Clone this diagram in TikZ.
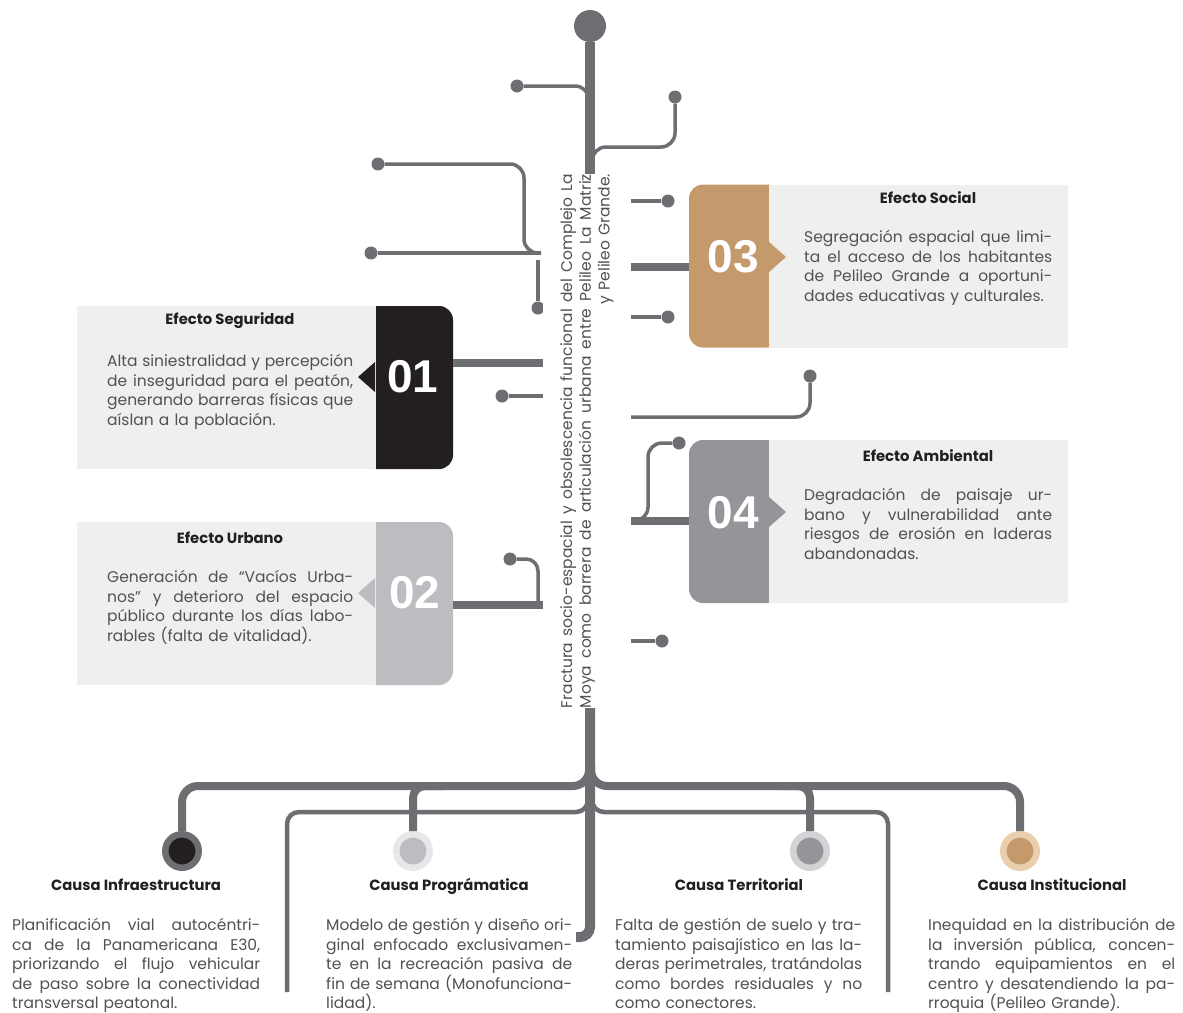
\documentclass[tikz,border=0pt]{standalone}
\usepackage{fontspec}
\setmainfont{Poppins}
\newfontfamily\numfont{Liberation Sans}
\usetikzlibrary{positioning,calc}
\definecolor{pgray}{HTML}{6D6E71}
\definecolor{cblack}{HTML}{231F20}
\definecolor{ctan}{HTML}{C49A6C}
\definecolor{cmid}{HTML}{939598}
\definecolor{clight}{HTML}{BCBDC0}
\definecolor{cpale}{HTML}{E6E7E8}
\definecolor{csilver}{HTML}{D1D3D4}
\definecolor{ctanpale}{HTML}{E9CFAE}
\definecolor{cpanel}{HTML}{EFEFEF}
\definecolor{ctext}{HTML}{505153}
\newcommand{\jl}[1]{\makebox[\hsize][s]{\spaceskip=.28em plus 3em minus .06em\relax #1}\\}
\tikzset{
  panel/.style={fill=cpanel,minimum width=299,minimum height=163,inner sep=0},
  tab/.style={rounded corners=14,minimum width=92,minimum height=163,inner sep=0},
  notch/.style={fill=#1},
  num/.style={text=white,font=\numfont\bfseries\fontsize{46}{46}\selectfont,inner sep=0},
  ttl/.style={text=cblack,font=\bfseries\fontsize{14.8}{17}\selectfont,inner sep=0},
  body/.style={text=ctext,font=\fontsize{15.5}{19.6}\selectfont,align=left,inner sep=0,anchor=north west},
  pipe/.style={draw=pgray,line width=3.5},
  thinpipe/.style={draw=pgray,line width=4.5},
  thickpipe/.style={draw=pgray,line width=8},
  trunk/.style={draw=pgray,line width=10},
  dot/.style={circle,fill=pgray,inner sep=0,minimum size=13},
  ring/.style={circle,line width=6.5,minimum size=33.5,inner sep=0,draw=#1},
}
\begin{document}
\begin{tikzpicture}[x=1pt,y=-1pt]
  \fill[white] (0,0) rectangle (1183,1012);
  \useasboundingbox (0,0) rectangle (1183,1012);

  % trunk
  \node[dot,minimum size=32] (top) at (590,26) {};
  \draw[trunk] (top) -- (590,178);
  \draw[trunk,rounded corners=10] (590,705) -- (590,937) -- (576,937);

  % dots round the trunk
  \node[dot] (dA) at (517,86) {};
  \node[dot] (dB) at (675,97) {};
  \node[dot] (dC) at (378,164) {};
  \node[dot] (dD) at (371,253) {};
  \node[dot] (dE) at (538,308) {};
  \node[dot] (dF) at (502,396) {};
  \node[dot] (dG) at (510,559) {};
  \node[dot] (dH) at (668,201) {};
  \node[dot] (dI) at (668,317) {};
  \node[dot] (dJ) at (810,376) {};
  \node[dot] (dK) at (679,443) {};
  \node[dot] (dL) at (662,641) {};

  \draw[pipe,rounded corners=14] (dA) -- (589,86) -- (589,118);
  \draw[pipe,rounded corners=14] (dB) -- (675,147) -- (592,147) -- (592,178);
  \draw[pipe,rounded corners=14] (dC) -- (524,164) -- (524,253) -- (541,253);
  \draw[pipe] (dD) -- (541,253);
  \draw[pipe] (dE) -- (538,260);

  % title
  \node[rotate=90,fill=white,minimum width=532,minimum height=88,inner sep=0,
        text width=534,align=right,text=ctext,font=\fontsize{15.5}{18.8}\selectfont]
        (title) at (587,441)
        {\jl{Fractura socio-espacial y obsolescencia funcional del Complejo La}
         \jl{Moya como barrera de articulación urbana entre Pelileo La Matriz}
         y Pelileo Grande.};

  \draw[pipe] (dF) -- (title.north |- dF);
  \draw[pipe,rounded corners=12] (dG) -- (538,559) -- (538,605);
  \draw[pipe] (dH) -- (title.south |- dH);
  \draw[pipe] (dI) -- (title.south |- dI);
  \draw[pipe,rounded corners=14] (dJ) -- (810,417) -- (title.south |- 0,417);
  \draw[pipe,rounded corners=14] (dK) -- (648,443) -- (648,521) -- (title.south |- 0,521);
  \draw[pipe] (dL) -- (title.south |- dL);

  % efecto seguridad
  \node[tab,fill=cblack] (t01) at (407,387.5) {};
  \node[panel] (p01) at (226,387.5) {};
  \fill[notch=cblack] (375,362) -- (358,377) -- (375,392) -- cycle;
  \node[num] (n01) at (413,377) {01};
  \node[ttl] (h01) at (230,321) {Efecto Seguridad};
  \node[body,text width=246] (b01) at (107,354)
    {\jl{Alta siniestralidad y percepción}
     \jl{de inseguridad para el peatón,}
     \jl{generando barreras físicas que}
     aíslan a la población.};
  \draw[thickpipe] (t01.east |- 0,363) -- (title.north |- 0,363);

  % efecto urbano
  \node[tab,fill=clight] (t02) at (407,603.5) {};
  \node[panel] (p02) at (226,603.5) {};
  \fill[notch=clight] (375,578) -- (358,593) -- (375,608) -- cycle;
  \node[num] (n02) at (415,593) {02};
  \node[ttl] (h02) at (230,538) {Efecto Urbano};
  \node[body,text width=246] (b02) at (107,570)
    {\jl{Generación de “Vacíos Urba-}
     \jl{nos” y deterioro del espacio}
     \jl{público durante los días labo-}
     rables (falta de vitalidad).};
  \draw[thickpipe] (t02.east |- 0,605) -- (title.north |- 0,605);

  % efecto social
  \node[tab,fill=ctan] (t03) at (735,266) {};
  \node[panel] (p03) at (918.5,266) {};
  \fill[notch=ctan] (769,242) -- (786,257) -- (769,272) -- cycle;
  \node[num] (n03) at (733,257) {03};
  \node[ttl] (h03) at (928,198) {Efecto Social};
  \node[body,text width=248] (b03) at (804,230)
    {\jl{Segregación espacial que limi-}
     \jl{ta el acceso de los habitantes}
     \jl{de Pelileo Grande a oportuni-}
     dades educativas y culturales.};
  \draw[thickpipe] (title.south |- 0,267) -- (t03.west |- 0,267);

  % efecto ambiental
  \node[tab,fill=cmid] (t04) at (735,521.5) {};
  \node[panel] (p04) at (918.5,521.5) {};
  \fill[notch=cmid] (769,497) -- (786,512) -- (769,527) -- cycle;
  \node[num] (n04) at (733,513) {04};
  \node[ttl] (h04) at (928,456) {Efecto Ambiental};
  \node[body,text width=248] (b04) at (804,488)
    {\jl{Degradación de paisaje ur-}
     \jl{bano y vulnerabilidad ante}
     \jl{riesgos de erosión en laderas}
     abandonadas.};
  \draw[thickpipe] (title.south |- 0,521) -- (t04.west |- 0,521);

  % causes
  \draw[thinpipe,rounded corners=12] (287,992) -- (287,812) -- (588,812) -- (588,795);
  \draw[thinpipe,rounded corners=12] (888,992) -- (888,812) -- (592,812) -- (592,795);
  \node[ring=pgray,fill=cblack] (k1) at (182,851) {};
  \node[ring=cpale,fill=clight] (k2) at (413,851) {};
  \node[ring=csilver,fill=cmid] (k3) at (810,851) {};
  \node[ring=ctanpale,fill=ctan] (k4) at (1020,851) {};
  \draw[thickpipe,rounded corners=16] (k1) -- (182,786) -- (589,786) -- (589,765);
  \draw[thickpipe,rounded corners=16] (k4) -- (1020,786) -- (591,786) -- (591,765);
  \draw[thickpipe,rounded corners=12] (k2) -- (413,786) -- (445,786);
  \draw[thickpipe,rounded corners=12] (k3) -- (810,786) -- (778,786);

  \node[ttl] (h11) at (136,885) {Causa Infraestructura};
  \node[ttl] (h12) at (449,886) {Causa Prográmatica};
  \node[ttl] (h13) at (739,885) {Causa Territorial};
  \node[ttl] (h14) at (1052,885) {Causa Institucional};

  \node[body,text width=248] (b11) at (12,918)
    {\jl{Planificación vial autocéntri-}
     \jl{ca de la Panamericana E30,}
     \jl{priorizando el flujo vehicular}
     \jl{de paso sobre la conectividad}
     transversal peatonal.};
  \node[body,text width=246] (b12) at (326,918)
    {\jl{Modelo de gestión y diseño ori-}
     \jl{ginal enfocado exclusivamen-}
     \jl{te en la recreación pasiva de}
     \jl{fin de semana (Monofunciona-}
     lidad).};
  \node[body,text width=247] (b13) at (615,918)
    {\jl{Falta de gestión de suelo y tra-}
     \jl{tamiento paisajístico en las la-}
     \jl{deras perimetrales, tratándolas}
     \jl{como bordes residuales y no}
     como conectores.};
  \node[body,text width=247] (b14) at (928,918)
    {\jl{Inequidad en la distribución de}
     \jl{la inversión pública, concen-}
     \jl{trando equipamientos en el}
     \jl{centro y desatendiendo la pa-}
     rroquia (Pelileo Grande).};
\end{tikzpicture}
\end{document}
